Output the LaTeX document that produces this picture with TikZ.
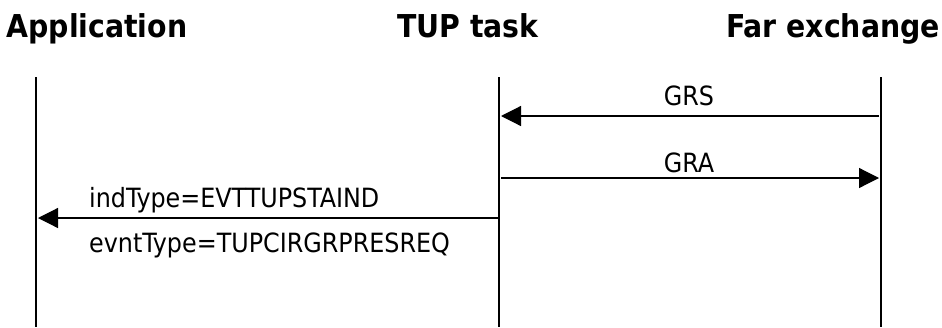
\documentclass[tikz,border=0pt]{standalone}
\usepackage{fontspec}
\setmainfont{DejaVu Sans Condensed}
\usepackage{tikz}
\usetikzlibrary{arrows.meta}

\tikzset{
  head/.style={anchor=base, font=\fontsize{31.5}{32}\selectfont\bfseries, inner sep=0pt},
  lbl/.style={anchor=base, font=\fontsize{26.5}{27}\selectfont, inner sep=0pt},
  life/.style={line width=1.2pt},
  msg/.style={line width=1.2pt, -{Triangle[length=20pt,width=20pt]}}
}

\begin{document}
\begin{tikzpicture}[x=1pt,y=-1pt]
\useasboundingbox (0,0) rectangle (942,327);
% heads
\node[head] (app) at (97,37) {Application};
\node[head] (tup) at (468,37) {TUP task};
\node[head] (far) at (833,37) {Far exchange};

% lifelines
\coordinate (appTop) at (36,77); \coordinate (appBot) at (36,327);
\coordinate (tupTop) at (499,77); \coordinate (tupBot) at (499,327);
\coordinate (farTop) at (881,77); \coordinate (farBot) at (881,327);
\draw[life] (appTop) -- (appBot);
\draw[life] (tupTop) -- (tupBot);
\draw[life] (farTop) -- (farBot);

% messages
\coordinate (farGRS) at (879,116); \coordinate (tupGRS) at (501,116);
\coordinate (tupGRA) at (501,178); \coordinate (farGRA) at (879,178);
\coordinate (tupInd) at (499,218); \coordinate (appInd) at (38,218);
\draw[msg] (farGRS) -- (tupGRS);
\draw[msg] (tupGRA) -- (farGRA);
\draw[msg] (tupInd) -- (appInd);

\node[lbl] (grs) at (689,105) {GRS};
\node[lbl] (gra) at (689,172) {GRA};
\node[lbl, anchor=base west] (ind) at (89,207) {indType=EVTTUPSTAIND};
\node[lbl, anchor=base west] (evnt) at (89,252) {evntType=TUPCIRGRPRESREQ};
\end{tikzpicture}
\end{document}
